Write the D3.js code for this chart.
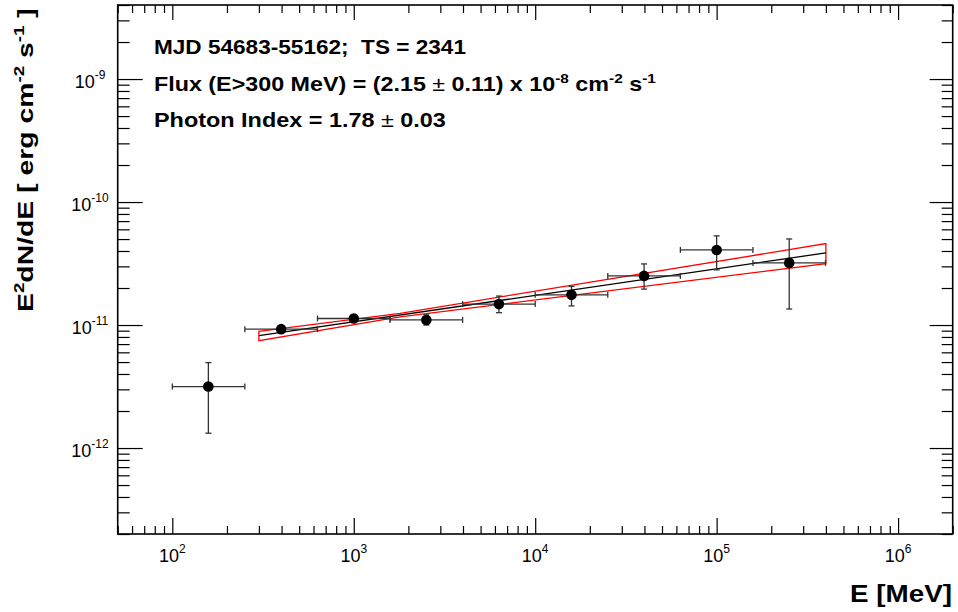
<!DOCTYPE html>
<html><head><meta charset="utf-8">
<script src="https://cdn.jsdelivr.net/npm/d3@7"></script>
<style>
body{margin:0;background:#fff}
svg{display:block}
text{font-family:"Liberation Sans",Arial,Helvetica,sans-serif}
</style>
</head><body>
<svg id="c" width="958" height="612"></svg>
<script>
// ---- data ----
const energy   = [158, 398, 1000, 2512, 6310, 15849, 39811, 100000, 251189];
const binLow   = [100, 251, 631, 1585, 3981, 10000, 25119, 63096, 158489];
const binHigh  = [251, 631, 1585, 3981, 10000, 25119, 63096, 158489, 398107];
const flux     = [3.16e-12, 9.26e-12, 1.13e-11, 1.10e-11, 1.48e-11, 1.76e-11, 2.51e-11, 4.08e-11, 3.20e-11];
const fluxLow  = [1.32e-12, 8.95e-12, 1.10e-11, 1.00e-11, 1.26e-11, 1.43e-11, 1.96e-11, 2.81e-11, 1.35e-11];
const fluxHigh = [4.95e-12, 9.60e-12, 1.17e-11, 1.21e-11, 1.72e-11, 2.06e-11, 3.14e-11, 5.31e-11, 5.01e-11];
const fitEnergy = [300, 400000];
const fitFlux   = [8.2e-12, 3.86e-11];
const bandEnergy = [300, 1800, 400000];
const bandUpper  = [8.89e-12, 1.245e-11, 4.59e-11];
const bandLower  = [7.45e-12, 1.167e-11, 3.16e-11];
const xTickExponents = ["2", "3", "4", "5", "6"];
const yTickExponents = ["-12", "-11", "-10", "-9"];
const infoLine1 = [["MJD 54683-55162;  TS = 2341", "n"]];
const infoLine2 = [["Flux (E>300 MeV) = (2.15 ", "n"], ["\u00B1", "pm"], [" 0.11) x 10", "n"], ["-8", "sup"], [" cm", "n"], ["-2", "sup"], [" s", "n"], ["-1", "sup"]];
const infoLine3 = [["Photon Index = 1.78 ", "n"], ["\u00B1", "pm"], [" 0.03", "n"]];
const yTitle = [["E", "n"], ["2", "sup"], ["dN/dE [ erg cm", "n"], ["-2", "sup"], [" s", "n"], ["-1", "sup"], [" ]", "n"]];
const xTitle = [["E [MeV]", "n"]];

// ---- layout ----
const L = 117.7, R = 952.7, T = 5, B = 534;
const svg = d3.select("#c");
const x = d3.scaleLog().domain([50, 2e6]).range([L, R]);
const y = d3.scaleLog().domain([2e-13, 4e-9]).range([B, T]);

// tick values
const xMajor = [], xMinor = [];
for (let e = 1; e <= 6; e++) for (let m = 1; m <= 9; m++) {
  const v = m * Math.pow(10, e);
  if (v < 50 * 0.999 || v > 2e6 * 1.001) continue;
  (m === 1 ? xMajor : xMinor).push(v);
}
const yMajor = [], yMinor = [];
for (let e = -13; e <= -9; e++) for (let m = 1; m <= 9; m++) {
  const v = m * Math.pow(10, e);
  if (v < 2e-13 * 0.999 || v > 4e-9 * 1.001) continue;
  (m === 1 ? yMajor : yMinor).push(v);
}

function ax(gen, scale, vals, size, tx, ty) {
  svg.append("g").attr("transform", `translate(${tx},${ty})`)
    .call(gen(scale).tickValues(vals).tickSize(size).tickFormat(""))
    .call(g => g.select(".domain").remove())
    .selectAll("line").attr("stroke", "#000").attr("stroke-width", 1.2);
}
ax(d3.axisBottom, x, xMajor, -16, 0, B);
ax(d3.axisBottom, x, xMinor, -8, 0, B);
ax(d3.axisTop, x, xMajor, -15, 0, T);
ax(d3.axisTop, x, xMinor, -8, 0, T);
ax(d3.axisLeft, y, yMajor, -25, L, 0);
ax(d3.axisLeft, y, yMinor, -12, L, 0);
ax(d3.axisRight, y, yMajor, -23, R, 0);
ax(d3.axisRight, y, yMinor, -11, R, 0);

svg.append("rect").attr("x", L).attr("y", T).attr("width", R - L).attr("height", B - T)
  .attr("fill", "none").attr("stroke", "#000").attr("stroke-width", 1.6);

// tick labels
const xl = svg.append("g");
xTickExponents.forEach((ex, i) => {
  const t = xl.append("text").attr("x", x(xMajor[i])).attr("y", 561.5)
    .attr("text-anchor", "middle").attr("font-size", 18);
  t.append("tspan").text("10");
  t.append("tspan").attr("font-size", 12).attr("dy", -9).text(ex);
});
const yl = svg.append("g");
yTickExponents.forEach((ex, i) => {
  const t = yl.append("text").attr("x", 90).attr("y", y(yMajor[i]) + 9)
    .attr("text-anchor", "middle").attr("font-size", 18);
  t.append("tspan").text("10");
  t.append("tspan").attr("font-size", 12).attr("dy", -9).text(ex);
});

// rich text helper fitted to a measured width
function rich(parent, segs, size, bold) {
  const t = parent.append("text").attr("font-size", size).attr("font-weight", bold ? "bold" : "normal")
    .style("white-space", "pre");
  let raised = false;
  segs.forEach(([s, k]) => {
    const sp = t.append("tspan").text(s);
    if (k === "sup") {
      sp.attr("font-size", size * 0.66).attr("dy", raised ? 0 : -size * 0.42);
      raised = true;
    } else {
      if (raised) sp.attr("dy", size * 0.42);
      raised = false;
      if (k === "pm") sp.attr("font-weight", "normal");
    }
  });
  return t;
}
function placeText(segs, size, bold, x0, y0, width, rot) {
  const g = svg.append("g").attr("transform", `translate(${x0},${y0})` + (rot ? ` rotate(${rot})` : ""));
  const t = rich(g, segs, size, bold);
  const w = t.node().getBBox().width;
  t.attr("transform", `scale(${width / w},1)`);
  return g;
}
placeText(infoLine1, 20, true, 154, 54, 312);
placeText(infoLine2, 20, true, 154, 91, 502);
placeText(infoLine3, 20, true, 154, 127, 292);
placeText(yTitle, 22, true, 33, 312, 304, -90);
placeText(xTitle, 23, true, 850, 602, 102);

// band
const line = d3.line().x(d => x(d[0])).y(d => y(d[1]));
const bandPts = bandEnergy.map((e, i) => [e, bandUpper[i]])
  .concat(bandEnergy.map((e, i) => [e, bandLower[i]]).reverse());
svg.append("path").attr("d", line(bandPts) + "Z").attr("fill", "none")
  .attr("stroke", "#ff0000").attr("stroke-width", 1.3);
svg.append("path").attr("d", line(fitEnergy.map((e, i) => [e, fitFlux[i]])))
  .attr("fill", "none").attr("stroke", "#000").attr("stroke-width", 1.3);

// error bars and points
const eb = svg.append("g").attr("stroke", "#333").attr("stroke-width", 1.3);
const cap = 3;
energy.forEach((e, i) => {
  const cx = x(e), cy = y(flux[i]);
  const x1 = x(binLow[i]), x2 = x(binHigh[i]);
  const y1 = y(fluxHigh[i]), y2 = y(fluxLow[i]);
  eb.append("line").attr("x1", x1).attr("x2", x2).attr("y1", cy).attr("y2", cy);
  eb.append("line").attr("x1", x1).attr("x2", x1).attr("y1", cy - cap).attr("y2", cy + cap);
  eb.append("line").attr("x1", x2).attr("x2", x2).attr("y1", cy - cap).attr("y2", cy + cap);
  eb.append("line").attr("x1", cx).attr("x2", cx).attr("y1", y1).attr("y2", y2);
  eb.append("line").attr("x1", cx - cap).attr("x2", cx + cap).attr("y1", y1).attr("y2", y1);
  eb.append("line").attr("x1", cx - cap).attr("x2", cx + cap).attr("y1", y2).attr("y2", y2);
});
svg.append("g").selectAll("circle").data(energy).join("circle")
  .attr("cx", d => x(d)).attr("cy", (d, i) => y(flux[i])).attr("r", 5.3).attr("fill", "#000");
</script>
</body></html>
